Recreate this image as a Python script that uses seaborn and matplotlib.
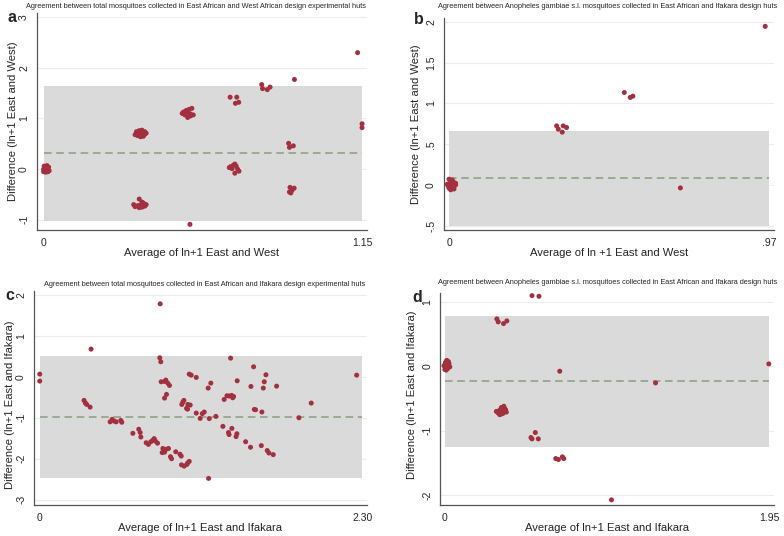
import pandas as pd
import matplotlib
matplotlib.use("Agg")
import matplotlib.pyplot as plt
import seaborn as sns

sns.set_style("white")
plt.rcParams['font.family'] = ['Liberation Sans', 'DejaVu Sans']

# panel a: total mosquitoes, East African vs West African huts
a_x = [0.0, 0.005, 0.01, 0.015, 0.02, 0.0, 0.008, 0.012, 0.018, 0.004, 0.01, 0.016, 0.002, 0.014,
       0.33, 0.335, 0.34, 0.345, 0.35, 0.355, 0.36, 0.365, 0.37, 0.34, 0.35, 0.36, 0.345, 0.355, 0.365,
       0.325, 0.33, 0.34, 0.345, 0.35, 0.355, 0.36, 0.365, 0.37, 0.345, 0.355, 0.36,
       0.528,
       0.50, 0.505, 0.51, 0.515, 0.52, 0.525, 0.53, 0.535, 0.54, 0.52, 0.53,
       0.673, 0.697, 0.692, 0.704,
       0.67, 0.675, 0.68, 0.685, 0.69, 0.695, 0.70, 0.705, 0.69,
       0.787, 0.79, 0.807, 0.817,
       0.905,
       0.884, 0.887, 0.901,
       0.889, 0.896, 0.892, 0.904, 0.887,
       1.133, 1.149, 1.149]
a_y = [0.0, 0.05, 0.03, 0.0, -0.03, -0.05, -0.06, 0.07, 0.04, 0.02, -0.02, -0.05, 0.06, 0.01,
       0.68, 0.74, 0.72, 0.76, 0.70, 0.75, 0.73, 0.69, 0.71, 0.66, 0.64, 0.65, 0.70, 0.77, 0.74,
       -0.70, -0.74, -0.72, -0.76, -0.71, -0.75, -0.69, -0.73, -0.70, -0.59, -0.65, -0.67,
       -1.09,
       1.10, 1.13, 1.07, 1.16, 1.02, 1.18, 1.09, 1.20, 1.07, 1.12, 1.05,
       1.42, 1.42, 1.30, 1.32,
       0.03, 0.05, 0.01, 0.08, 0.10, 0.06, 0.0, -0.04, -0.08,
       1.67, 1.59, 1.57, 1.62,
       1.77,
       0.51, 0.43, 0.46,
       -0.36, -0.42, -0.47, -0.375, -0.45,
       2.30, 0.895, 0.82]
a_mean, a_lo, a_hi = 0.31, -1.02, 1.64

# panel b: An. gambiae, East African vs Ifakara huts
b_x = [0.0, 0.005, 0.01, 0.015, 0.02, 0.0, 0.005, 0.01, 0.015, 0.02, 0.0, 0.01, 0.005, 0.015, -0.005, -0.003,
       0.326, 0.331, 0.343, 0.346, 0.356,
       0.531, 0.549, 0.557,
       0.701, 0.958]
b_y = [0.0, 0.04, 0.06, 0.03, 0.0, -0.04, -0.06, -0.03, -0.05, 0.02, 0.07, 0.0, 0.02, -0.02, 0.01, -0.01,
       0.725, 0.684, 0.648, 0.725, 0.705,
       1.135, 1.074, 1.09,
       -0.037, 1.947]
b_mean, b_lo, b_hi = 0.086, -0.50, 0.664

# panel c: total mosquitoes, East African vs Ifakara huts
c_x = [0.0, 0.0, 0.366, 0.316, 0.326, 0.335, 0.359,
       0.502, 0.516, 0.530, 0.545, 0.578, 0.585,
       0.664, 0.706, 0.716, 0.721,
       0.759, 0.775, 0.792, 0.806, 0.816, 0.825, 0.84,
       0.859, 0.856, 0.863,
       0.866, 0.89, 0.899, 0.913, 0.925, 0.89, 0.904,
       0.873, 0.89, 0.902, 0.918, 0.878,
       0.932, 0.94, 0.97,
       1.0, 1.009, 1.011, 1.03, 1.049, 1.056, 1.066,
       1.013, 1.02, 1.028, 1.047, 1.056, 1.073, 1.054,
       1.066, 1.08, 1.116,
       1.116, 1.144, 1.159, 1.173,
       1.204, 1.201, 1.22, 1.209, 1.256,
       1.306, 1.315, 1.335, 1.35, 1.346, 1.35,
       1.361, 1.368, 1.376, 1.382, 1.37,
       1.406, 1.40, 1.408,
       1.468, 1.503, 1.506, 1.525, 1.53, 1.539,
       1.58, 1.584, 1.594, 1.601, 1.613,
       1.622, 1.634, 1.665, 1.689,
       1.848, 1.936, 2.26]
c_y = [0.065, -0.105, 0.675, -0.577, -0.642, -0.675, -0.74,
       -1.10, -1.04, -1.08, -1.10, -1.065, -1.11,
       -1.38, -1.28, -1.36, -1.47,
       -1.61, -1.65, -1.585, -1.55, -1.51, -1.57, -1.62,
       1.78, 0.463, 0.366,
       -0.122, -0.114, -0.081, -0.154, -0.211, -0.52, -0.43,
       -1.85, -1.84, -1.77, -1.75, -1.75,
       -1.95, -2.0, -1.83,
       -1.89, -1.935, -2.15, -2.18, -2.14, -2.10, -2.065,
       -0.675, -0.62, -0.577, -0.77, -0.675, -0.69, -0.79,
       0.065, 0.04, -0.016,
       -0.886, -1.016, -0.90, -0.86,
       -2.48, -0.276, -0.154, -1.02, -0.967,
       -1.21, -0.553, -0.463, -0.47, -1.36, -1.41,
       0.455, -0.455, -0.512, -0.48, -1.26,
       -1.39, -1.46, -0.098,
       -1.585, -1.72, -0.236, 0.244, -0.797, -0.805,
       -1.68, -0.86, -0.276, -0.122, 0.049,
       -1.80, -1.86, -1.90, -0.228,
       -1.0, -0.642, 0.04]
c_mean, c_lo, c_hi = -0.99, -2.48, 0.496

# panel d: An. gambiae, East African vs Ifakara huts
d_x = [0.0, 0.005, 0.01, 0.015, 0.02, 0.025, 0.0, 0.008, 0.012, 0.018, 0.004, 0.01, 0.016, 0.022, -0.005, 0.03,
       0.313, 0.321, 0.353, 0.373,
       0.524, 0.566, 0.691,
       0.31, 0.32, 0.33, 0.34, 0.35, 0.36, 0.37, 0.33, 0.34, 0.35, 0.36, 0.345, 0.355, 0.365, 0.325,
       0.518, 0.524, 0.544, 0.562,
       0.667, 0.683, 0.707, 0.715,
       1.002, 1.267, 1.948]
d_y = [0.0, 0.05, 0.08, 0.03, 0.0, 0.04, -0.05, -0.06, 0.09, 0.02, 0.06, -0.02, -0.04, 0.07, 0.01, -0.01,
       0.733, 0.687, 0.661, 0.702,
       1.094, 1.084, -0.077,
       -0.70, -0.72, -0.68, -0.74, -0.70, -0.66, -0.71, -0.75, -0.64, -0.73, -0.69, -0.71, -0.62, -0.67, -0.73,
       -1.105, -1.125, -1.027, -1.125,
       -1.43, -1.445, -1.404, -1.43,
       -2.07, -0.258, 0.036]
d_mean, d_lo, d_hi = -0.232, -1.255, 0.785

panels = [
    dict(x=a_x, y=a_y, mean=a_mean, lo=a_lo, hi=a_hi, letter='a',
         title='Agreement between total mosquitoes collected in East African and West African design experimental huts',
         xlabel='Average of ln+1 East and West', ylabel='Difference (ln+1 East and West)',
         xticks=[0, 1.15], xtl=['0', '1.15'], yticks=[-1, 0, 1, 2, 3], ytl=['-1', '0', '1', '2', '3'],
         xlim=(-0.025, 1.166), ylim=(-1.2, 3.085), pos=[0.0468, 0.571, 0.421, 0.405],
         ylab_xy=(-0.057, 0.50), letter_xy=(7, 18), title_xy=(196, 6)),
    dict(x=b_x, y=b_y, mean=b_mean, lo=b_lo, hi=b_hi, letter='b',
         title='Agreement between Anopheles gambiae s.l. mosquitoes collected in East African and Ifakara design huts',
         xlabel='Average of ln +1 East and West', ylabel='Difference (ln+1 East and West)',
         xticks=[0, 0.97], xtl=['0', '.97'], yticks=[-0.5, 0, 0.5, 1, 1.5, 2],
         ytl=['-.5', '0', '.5', '1', '1.5', '2'],
         xlim=(-0.016, 0.984), ylim=(-0.553, 2.05), pos=[0.566, 0.571, 0.421, 0.3955],
         ylab_xy=(-0.069, 0.50), letter_xy=(414, 20), title_xy=(608, 7)),
    dict(x=c_x, y=c_y, mean=c_mean, lo=c_lo, hi=c_hi, letter='c',
         title='Agreement between total mosquitoes collected in East African and Ifakara design experimental huts',
         xlabel='Average of ln+1 East and Ifakara', ylabel='Difference (ln+1 East and Ifakara)',
         xticks=[0, 2.30], xtl=['0', '2.30'], yticks=[-3, -2, -1, 0, 1, 2],
         ytl=['-3', '-2', '-1', '0', '1', '2'],
         xlim=(-0.043, 2.333), ylim=(-3.13, 2.09), pos=[0.043, 0.0578, 0.425, 0.399],
         ylab_xy=(-0.056, 0.47), letter_xy=(5, 296), title_xy=(205, 284)),
    dict(x=d_x, y=d_y, mean=d_mean, lo=d_lo, hi=d_hi, letter='d',
         title='Agreement between Anopheles gambiae s.l. mosquitoes collected in East African and Ifakara design huts',
         xlabel='Average of ln+1 East and Ifakara', ylabel='Difference (ln+1 East and Ifakara)',
         xticks=[0, 1.95], xtl=['0', '1.95'], yticks=[-2, -1, 0, 1], ytl=['-2', '-1', '0', '1'],
         xlim=(-0.03, 1.978), ylim=(-2.15, 1.13), pos=[0.561, 0.0578, 0.426, 0.395],
         ylab_xy=(-0.069, 0.52), letter_xy=(412, 298), title_xy=(608, 283)),
]

W, H = 784, 536
fig = plt.figure(figsize=(W / 100, H / 100), dpi=100)
fig.patch.set_facecolor('white')

for p in panels:
    ax = fig.add_axes(p['pos'])
    ax.set_axisbelow(True)
    ax.yaxis.grid(True, color='#ececec', linewidth=0.8)
    ax.xaxis.grid(False)
    xmax = p['xticks'][-1]
    ax.fill_between([0, xmax], p['lo'], p['hi'], color='#dadada', linewidth=0, zorder=1)
    ax.plot([0, xmax], [p['mean'], p['mean']], color='#8e9c80', linestyle=(0, (5, 3)),
            linewidth=1.1, zorder=2)
    df = pd.DataFrame({'avg': p['x'], 'diff': p['y']})
    sns.scatterplot(data=df, x='avg', y='diff', ax=ax, color='#a3303f', s=13,
                    edgecolor='none', zorder=3)
    ax.set_xlim(*p['xlim'])
    ax.set_ylim(*p['ylim'])
    ax.set_xticks(p['xticks'])
    ax.set_xticklabels(p['xtl'], fontsize=7.5)
    ax.set_yticks(p['yticks'])
    ax.set_yticklabels(p['ytl'], fontsize=7.5, rotation=90, va='center')
    ax.tick_params(direction='out', length=3.5, width=0.8, color='#555555', pad=2)
    for s in ['top', 'right']:
        ax.spines[s].set_visible(False)
    for s in ['left', 'bottom']:
        ax.spines[s].set_color('#555555')
        ax.spines[s].set_linewidth(0.9)
    ax.set_xlabel(p['xlabel'], fontsize=8.1)
    ax.set_ylabel(p['ylabel'], fontsize=8.1)
    ax.xaxis.set_label_coords(0.5, -0.085)
    ax.yaxis.set_label_coords(*p['ylab_xy'])
    fig.text(p['letter_xy'][0] / W, 1 - p['letter_xy'][1] / H, p['letter'],
             fontsize=11.5, fontweight='bold', ha='left', va='center')
    fig.text(p['title_xy'][0] / W, 1 - p['title_xy'][1] / H, p['title'],
             fontsize=5.35, ha='center', va='center')

fig.savefig('out.png', dpi=100)
